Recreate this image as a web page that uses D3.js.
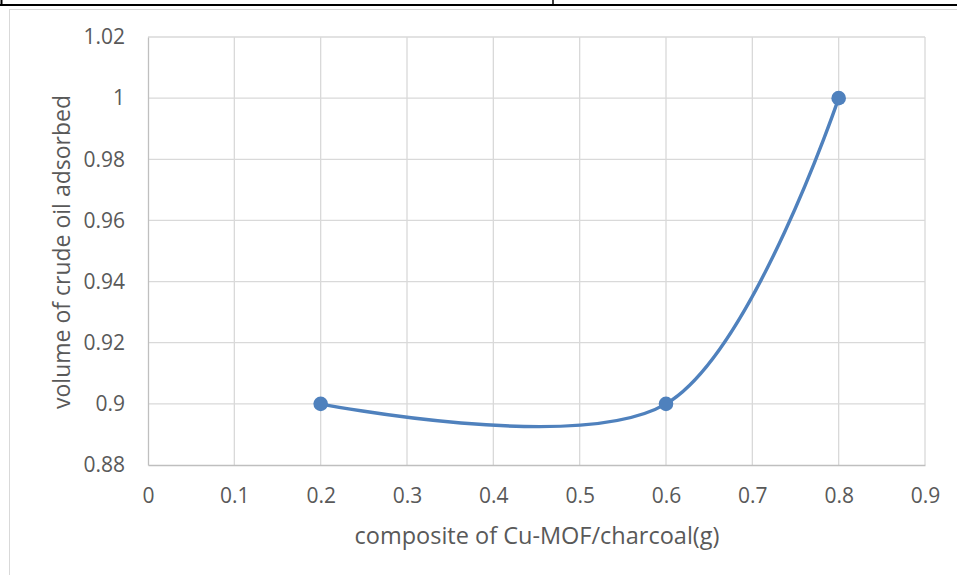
<!DOCTYPE html>
<html>
<head>
<meta charset="utf-8">
<script src="https://cdn.jsdelivr.net/npm/d3@7"></script>
<style>
  html, body { margin: 0; padding: 0; background: #fff; }
  svg { display: block; }
</style>
</head>
<body>
<svg id="chart" width="957" height="575"></svg>
<script>
// Adsorption data: composite mass (g) vs. volume of crude oil adsorbed
const composite = [0.2, 0.6, 0.8];
const volume = [0.9, 0.9, 1.0];
const xTicks = [0, 0.1, 0.2, 0.3, 0.4, 0.5, 0.6, 0.7, 0.8, 0.9];
const yTicks = [0.88, 0.9, 0.92, 0.94, 0.96, 0.98, 1, 1.02];
const xTitle = "composite of Cu-MOF/charcoal(g)";
const yTitle = "volume of crude oil adsorbed";

const svg = d3.select("#chart");
const font = "'Open Sans', 'Liberation Sans', sans-serif";

// Table rules above the chart
svg.append("line").attr("x1", 0).attr("x2", 957).attr("y1", 5).attr("y2", 5)
  .attr("stroke", "#000").attr("stroke-width", 2);
svg.append("line").attr("x1", 1.5).attr("x2", 1.5).attr("y1", 0).attr("y2", 6)
  .attr("stroke", "#000").attr("stroke-width", 2);
svg.append("line").attr("x1", 553).attr("x2", 553).attr("y1", 0).attr("y2", 6)
  .attr("stroke", "#000").attr("stroke-width", 1.5);

// Chart area frame
svg.append("rect").attr("x", 9.5).attr("y", 9.5).attr("width", 960).attr("height", 580)
  .attr("fill", "#fff").attr("stroke", "#d9d9d9").attr("stroke-width", 1);

const x = d3.scaleLinear().domain([0, 0.9]).range([148, 925]);
const y = d3.scaleLinear().domain([0.88, 1.02]).range([465, 37]);

// Gridlines
svg.append("g").selectAll("line").data(xTicks.slice(1)).join("line")
  .attr("x1", d => x(d)).attr("x2", d => x(d))
  .attr("y1", y(1.02)).attr("y2", y(0.88))
  .attr("stroke", "#d9d9d9").attr("stroke-width", 1.3);
svg.append("g").selectAll("line").data(yTicks.slice(1)).join("line")
  .attr("x1", x(0)).attr("x2", x(0.9))
  .attr("y1", d => y(d)).attr("y2", d => y(d))
  .attr("stroke", "#d9d9d9").attr("stroke-width", 1.3);

// Axes
const xAxis = svg.append("g").attr("transform", `translate(0,${y(0.88)})`)
  .call(d3.axisBottom(x).tickValues(xTicks).tickSize(0).tickPadding(23)
    .tickFormat(d => String(d)));
const yAxis = svg.append("g").attr("transform", `translate(${x(0)},0)`)
  .call(d3.axisLeft(y).tickValues(yTicks).tickSize(0).tickPadding(23)
    .tickFormat(d => String(d)));
[xAxis, yAxis].forEach(g => {
  g.select(".domain").attr("stroke", "#bfbfbf").attr("stroke-width", 1.3);
  g.selectAll("text").attr("fill", "#595959").style("font-family", font).style("font-size", "21px");
});

// Axis titles
svg.append("text").attr("x", 537).attr("y", 544).attr("text-anchor", "middle")
  .attr("fill", "#595959").style("font-family", font).style("font-size", "23.5px").text(xTitle);
svg.append("text").attr("transform", `translate(70,252) rotate(-90)`).attr("text-anchor", "middle")
  .attr("fill", "#595959").style("font-family", font).style("font-size", "23px").text(yTitle);

// Smoothed series line and markers
const pts = composite.map((c, i) => [c, volume[i]]);
const line = d3.line().x(d => x(d[0])).y(d => y(d[1])).curve(d3.curveCardinal.tension(0));
svg.append("path").datum(pts).attr("d", line)
  .attr("fill", "none").attr("stroke", "#4f81bd").attr("stroke-width", 3.4)
  .attr("stroke-linecap", "round");
svg.append("g").selectAll("circle").data(pts).join("circle")
  .attr("cx", d => x(d[0])).attr("cy", d => y(d[1])).attr("r", 7.3)
  .attr("fill", "#4f81bd");
</script>
</body>
</html>
